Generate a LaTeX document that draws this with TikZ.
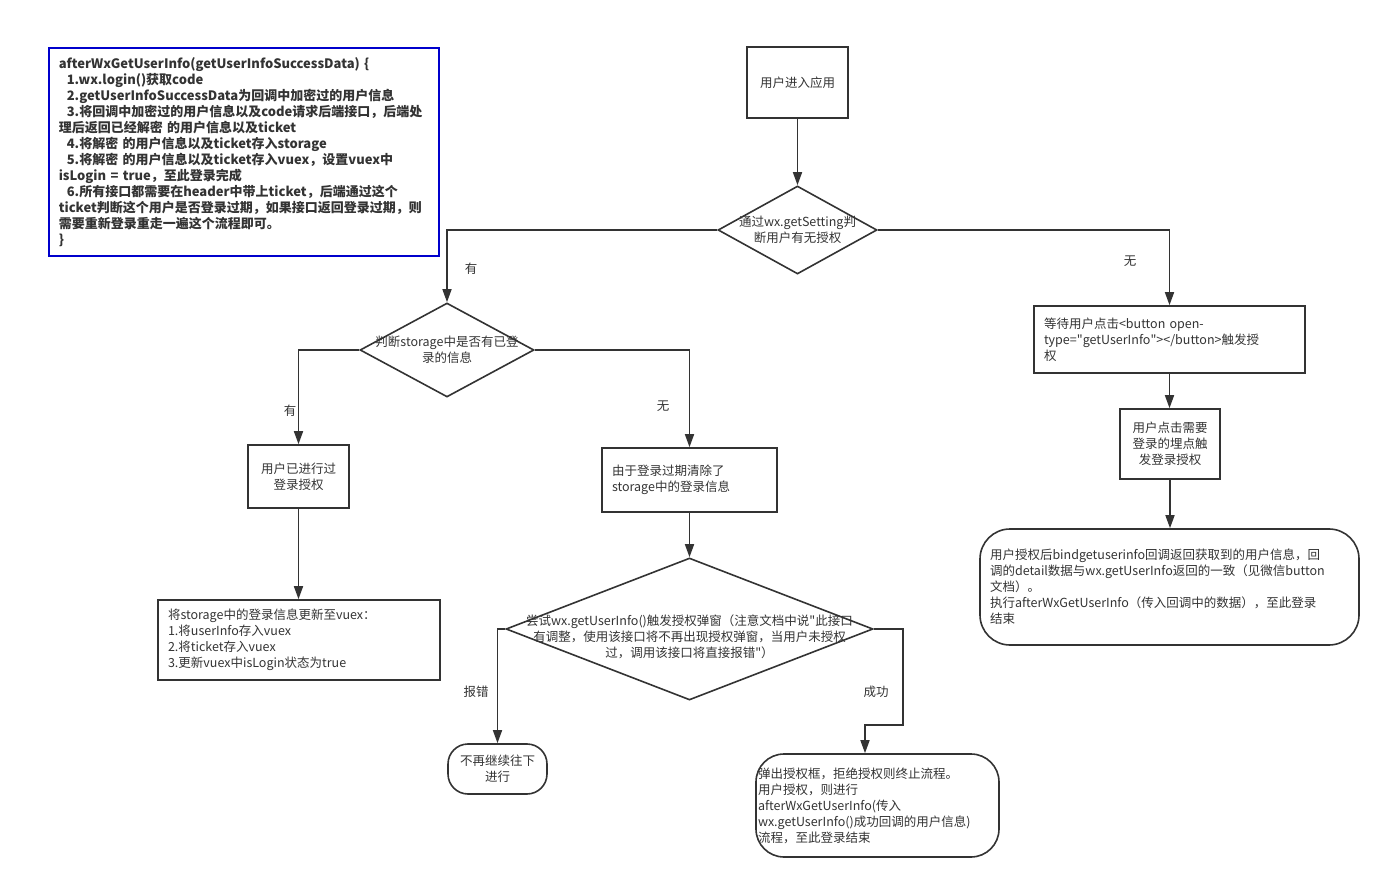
\documentclass[tikz,border=0pt]{standalone}
\usepackage{fontspec}
\setmainfont{Noto Sans CJK SC}
\usetikzlibrary{arrows.meta,shapes.geometric}
\definecolor{fline}{HTML}{333333}
\definecolor{fblue}{HTML}{0000CC}
\newcommand\qmark{\XeTeXglyph\XeTeXcharglyph34\relax}
\hyphenpenalty=10000
\exhyphenpenalty=10000

\begin{document}
\begin{tikzpicture}[x=1pt,y=-1pt,
  font=\fontsize{12.5}{16}\selectfont,text=fline,
  st/.style={draw=fline,line width=1.6pt,inner sep=0pt,align=center},
  lt/.style={draw=fline,line width=1.6pt,align=left,inner xsep=10pt,inner ysep=0pt},
  dm/.style={draw=fline,line width=1.6pt,diamond,inner sep=0pt},
  tm/.style={draw=fline,line width=1.6pt,rounded corners=#1},
  lb/.style={inner sep=1pt},
  a/.style={-{Triangle[length=13pt,width=9pt]},draw=fline,line width=1.6pt}
]
\useasboundingbox (0,0) rectangle (1390,890);

% note box
\node[draw=fblue,line width=1.6pt,text width=370pt,align=left,inner xsep=10pt,
      minimum height=208pt,anchor=north west,
      font=\bfseries\fontsize{13}{16}\selectfont] (note) at (48,47)
  {afterWxGetUserInfo(getUserInfoSuccessData) \{\\
  \hspace*{8pt}1.wx.login()获取code\\
  \hspace*{8pt}2.getUserInfoSuccessData为回调中加密过的用户信息\\
  \hspace*{8pt}3.将回调中加密过的用户信息以及code请求后端接口，后端处\\
  理后返回已经解密 的用户信息以及ticket\\
  \hspace*{8pt}4.将解密 的用户信息以及ticket存入storage\\
  \hspace*{8pt}5.将解密 的用户信息以及ticket存入vuex，设置vuex中\\
  isLogin = true，至此登录完成\\
  \hspace*{8pt}6.所有接口都需要在header中带上ticket，后端通过这个\\
  ticket判断这个用户是否登录过期，如果接口返回登录过期，则\\
  需要重新登录重走一遍这个流程即可。\\
  \}};

% main flow
\node[st,minimum width=101pt,minimum height=71pt] (start) at (797.5,82.5) {用户进入应用};
\node[dm,minimum width=159pt,minimum height=88pt] (d1) at (797.5,230) {};
\node[align=center,inner sep=0pt] (d1t) at (d1) {通过wx.getSetting判\\断用户有无授权};

\node[dm,minimum width=174pt,minimum height=94pt] (d2) at (447,350) {};
\node[align=center,inner sep=0pt] (d2t) at (d2) {判断storage中是否有已登\\录的信息};

\node[st,minimum width=101pt,minimum height=63pt] (b4) at (298.5,476.5) {用户已进行过\\登录授权};
\node[lt,text width=262pt,minimum height=80pt] (b6) at (299,640)
  {将storage中的登录信息更新至vuex：\\1.将userInfo存入vuex\\2.将ticket存入vuex\\3.更新vuex中isLogin状态为true};

\node[lt,text width=155pt,minimum height=64pt] (b5) at (689.5,480)
  {由于登录过期清除了\\storage中的登录信息};
\node[dm,minimum width=367pt,minimum height=142pt] (d3) at (689.5,629) {};
\node[align=center,inner sep=0pt] (d3t) at (689.5,637)
  {尝试wx.getUserInfo()触发授权弹窗（注意文档中说\qmark 此接口\\有调整，使用该接口将不再出现授权弹窗，当用户未授权\\过，调用该接口将直接报错\qmark）};

\node[tm=20pt,align=center,minimum width=99pt,minimum height=50pt,inner sep=0pt] (e1) at (497.5,769) {不再继续往下\\进行};
\node[tm=28pt,align=left,text width=239pt,inner xsep=2pt,minimum height=103pt] (e2) at (877.5,805.5)
  {弹出授权框，拒绝授权则终止流程。\\用户授权，则进行\\afterWxGetUserInfo(传入\\wx.getUserInfo()成功回调的用户信息)\\流程，至此登录结束};

% right branch
\node[lt,text width=251pt,minimum height=67pt] (b3) at (1169.5,339.5)
  {等待用户点击<button open-\\type=\qmark getUserInfo\qmark ></button>触发授\\权};
\node[st,minimum width=100pt,minimum height=70pt] (b7) at (1170,444) {用户点击需要\\登录的埋点触\\发登录授权};
\node[tm=30pt,align=left,text width=359pt,inner xsep=10pt,minimum height=116pt] (e3) at (1169.5,587)
  {用户授权后bindgetuserinfo回调返回获取到的用户信息，回\\调的detail数据与wx.getUserInfo返回的一致（见微信button\\文档）。\\执行afterWxGetUserInfo（传入回调中的数据），至此登录\\结束};

% branch labels
\node[lb] (l1) at (471,269) {有};
\node[lb] (l2) at (1130,261) {无};
\node[lb] (l3) at (290,411) {有};
\node[lb] (l4) at (663,406) {无};
\node[lb] (l5) at (476,692) {报错};
\node[lb] (l6) at (876,692) {成功};

\coordinate (c1) at (903,725);
\coordinate (c2) at (865,725);

\draw[a] (start) -- (d1);
\draw[a] (d1.west) -| (d2.north);
\draw[a] (d1.east) -| (b3.north);
\draw[a] (d2.west) -| (b4.north);
\draw[a] (d2.east) -| (b5.north);
\draw[a] (b4.south) -- (b4.south |- b6.north);
\draw[a] (b5) -- (d3);
\draw[a] (d3.west) -| (e1.north);
\draw[a] (d3.east) -| (c1) -- (c2) -- (c2 |- e2.north);
\draw[a] (b3) -- (b3 |- b7.north);
\draw[a] (b7.south) -- (b7.south |- e3.north);
\end{tikzpicture}
\end{document}
